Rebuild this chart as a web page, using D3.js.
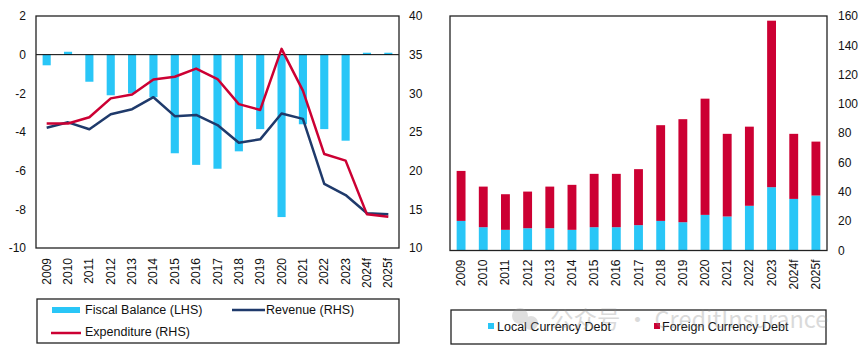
<!DOCTYPE html>
<html><head><meta charset="utf-8">
<script src="https://cdn.jsdelivr.net/npm/d3@7"></script>
<style>
body{margin:0;background:#fff;}
svg{display:block;font-family:"Liberation Sans",Arial,sans-serif;}
</style></head>
<body><svg id="c" width="865" height="355"></svg>
<script>
const years = ["2009","2010","2011","2012","2013","2014","2015","2016","2017","2018","2019","2020","2021","2022","2023","2024f","2025f"];
const fiscalBalance = [-0.55,0.15,-1.4,-2.1,-2.0,-2.2,-5.1,-5.7,-5.9,-5.0,-3.85,-8.4,-3.6,-3.85,-4.45,0.1,0.1];
const revenue = [25.55,26.25,25.35,27.3,27.95,29.5,27.05,27.2,25.9,23.6,24.05,27.4,26.7,18.3,16.85,14.5,14.35];
const expenditure = [26.1,26.1,26.9,29.35,29.85,31.8,32.15,33.2,31.85,28.6,27.85,35.75,30.35,22.15,21.3,14.35,14.05];
const localDebt = [20.2,15.9,14.1,15.2,15.2,14.1,15.9,15.9,17.3,20.2,19.3,24.3,23.2,30.5,43.2,35.2,37.5];
const totalDebt = [54.3,43.6,38.4,40.2,43.6,44.8,52.3,52.3,55.5,85.5,89.6,103.6,79.6,84.5,156.8,79.6,74.3];
const foreignDebt = totalDebt.map((t,i)=>+(t-localDebt[i]).toFixed(1));
const lhsTicks = [2,0,-2,-4,-6,-8,-10];
const rhsTicks = [40,35,30,25,20,15,10];
const debtTicks = [0,20,40,60,80,100,120,140,160];

const BLUE="#29C6F7", RED="#CC0033", NAVY="#1F3A6B";
const svg = d3.select("#c");

// ---------- LEFT CHART ----------
const L = {x0:36, x1:399, y0:16, y1:248};
const xL = d3.scaleBand().domain(years).range([L.x0,L.x1]).paddingInner(0.62).paddingOuter(0.31);
const yL = d3.scaleLinear().domain([-10,2]).range([L.y1,L.y0]);
const yR = d3.scaleLinear().domain([10,40]).range([L.y1,L.y0]);
const gL = svg.append("g");

gL.selectAll("rect.fb").data(fiscalBalance).join("rect")
  .attr("x",(d,i)=>xL(years[i])).attr("width",xL.bandwidth())
  .attr("y",d=>yL(Math.max(0,d))).attr("height",d=>Math.abs(yL(d)-yL(0)))
  .attr("fill",BLUE);

gL.append("line").attr("x1",L.x0).attr("x2",L.x1).attr("y1",yL(0)).attr("y2",yL(0)).attr("stroke","#000").attr("stroke-width",1);

const cx = y=>xL(y)+xL.bandwidth()/2;
const line = d3.line().x((d,i)=>cx(years[i])).y(d=>yR(d));
gL.append("path").datum(revenue).attr("d",line).attr("fill","none").attr("stroke",NAVY).attr("stroke-width",2.5).attr("stroke-linejoin","round");
gL.append("path").datum(expenditure).attr("d",line).attr("fill","none").attr("stroke",RED).attr("stroke-width",2.5).attr("stroke-linejoin","round");

gL.append("rect").attr("x",L.x0).attr("y",L.y0).attr("width",L.x1-L.x0).attr("height",L.y1-L.y0).attr("fill","none").attr("stroke","#222").attr("stroke-width",1.3);

gL.selectAll("text.lt").data(lhsTicks).join("text")
  .attr("x",L.x0-10).attr("y",d=>yL(d)).attr("dy","0.35em").attr("text-anchor","end")
  .attr("font-size",12).attr("fill","#111").text(d=>d);
gL.selectAll("text.rt").data(rhsTicks).join("text")
  .attr("x",L.x1+10).attr("y",d=>yR(d)).attr("dy","0.35em").attr("text-anchor","start")
  .attr("font-size",12).attr("fill","#111").text(d=>d);
gL.selectAll("text.xt").data(years).join("text")
  .attr("transform",d=>`translate(${cx(d)+4},${L.y1+10}) rotate(-90)`)
  .attr("text-anchor","end").attr("font-size",12).attr("fill","#111").text(d=>d);

// legend left
gL.append("rect").attr("x",37).attr("y",299).attr("width",362).attr("height",44).attr("fill","none").attr("stroke","#222").attr("stroke-width",1.3);
gL.append("rect").attr("x",52).attr("y",307).attr("width",28).attr("height",6).attr("fill",BLUE);
gL.append("text").attr("x",85).attr("y",310).attr("dy","0.35em").attr("font-size",12.5).attr("fill","#111").text("Fiscal Balance (LHS)");
gL.append("line").attr("x1",232).attr("x2",265).attr("y1",310).attr("y2",310).attr("stroke",NAVY).attr("stroke-width",2.5);
gL.append("text").attr("x",266).attr("y",310).attr("dy","0.35em").attr("font-size",12.5).attr("fill","#111").text("Revenue (RHS)");
gL.append("line").attr("x1",51).attr("x2",81).attr("y1",333).attr("y2",333).attr("stroke",RED).attr("stroke-width",2.5);
gL.append("text").attr("x",85).attr("y",332).attr("dy","0.35em").attr("font-size",12.5).attr("fill","#111").text("Expenditure (RHS)");

// ---------- RIGHT CHART ----------
const R = {x0:450, x1:827, y0:16, y1:250.5};
const xB = d3.scaleBand().domain(years).range([R.x0,R.x1]).paddingInner(0.6).paddingOuter(0.3);
const yB = d3.scaleLinear().domain([0,160]).range([R.y1,R.y0]);
const gR = svg.append("g");
const stackData = years.map((y,i)=>({year:y, local:localDebt[i], foreign:foreignDebt[i]}));
const series = d3.stack().keys(["local","foreign"])(stackData);
const colors = {local:BLUE, foreign:RED};
gR.selectAll("g.s").data(series).join("g").attr("fill",d=>colors[d.key])
  .selectAll("rect").data(d=>d).join("rect")
  .attr("x",d=>xB(d.data.year)).attr("width",xB.bandwidth())
  .attr("y",d=>yB(d[1])).attr("height",d=>yB(d[0])-yB(d[1]));

gR.append("rect").attr("x",R.x0).attr("y",R.y0).attr("width",R.x1-R.x0).attr("height",R.y1-R.y0).attr("fill","none").attr("stroke","#222").attr("stroke-width",1.3);

gR.selectAll("text.rt").data(debtTicks).join("text")
  .attr("x",R.x1+11).attr("y",d=>yB(d)).attr("dy","0.35em").attr("text-anchor","start")
  .attr("font-size",12).attr("fill","#111").text(d=>d);
gR.selectAll("text.xt").data(years).join("text")
  .attr("transform",d=>`translate(${xB(d)+xB.bandwidth()/2+4},${R.y1+9}) rotate(-90)`)
  .attr("text-anchor","end").attr("font-size",12).attr("fill","#111").text(d=>d);

// legend right
gR.append("rect").attr("x",451).attr("y",310).attr("width",375).attr("height",34).attr("fill","none").attr("stroke","#222").attr("stroke-width",1.3);
gR.append("rect").attr("x",488).attr("y",323).attr("width",6).attr("height",6).attr("fill",BLUE);
gR.append("text").attr("x",497).attr("y",327).attr("dy","0.35em").attr("font-size",12.5).attr("fill","#111").text("Local Currency Debt");
gR.append("rect").attr("x",654).attr("y",323).attr("width",6).attr("height",6).attr("fill",RED);
gR.append("text").attr("x",662).attr("y",327).attr("dy","0.35em").attr("font-size",12.5).attr("fill","#111").text("Foreign Currency Debt");

// watermark
const wm = svg.append("g").attr("opacity",0.3);
wm.append("circle").attr("cx",520).attr("cy",316).attr("r",8).attr("fill","#999");
wm.append("circle").attr("cx",531).attr("cy",323).attr("r",7).attr("fill","#999");
wm.append("text").attr("x",550).attr("y",320).attr("dy","0.35em").attr("font-size",23.5).attr("fill","#888")
  .attr("font-family","'Noto Sans CJK SC','Liberation Sans',sans-serif").text("公众号 · CreditInsurance");
</script></body></html>
